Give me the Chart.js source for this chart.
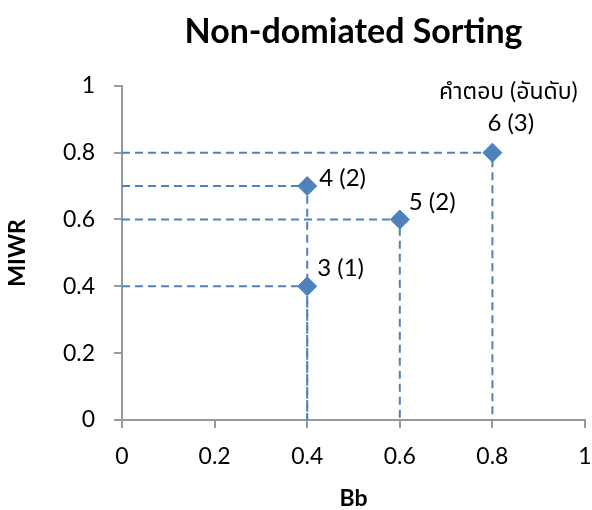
<!DOCTYPE html>
<html><head><meta charset="utf-8">
<script src="https://cdn.jsdelivr.net/npm/chart.js@4/dist/chart.umd.min.js"></script>
<style>html,body{margin:0;padding:0;background:#fff}#wrap{width:592px;height:510px}</style>
</head><body><div id="wrap"><canvas id="c" width="592" height="510"></canvas></div>
<script>
const bbValues = [0.4, 0.4, 0.6, 0.8];
const miwrValues = [0.4, 0.7, 0.6, 0.8];
const pointLabels = ['3 (1)', '4 (2)', '5 (2)', '6 (3)'];
const xTicks = [0, 0.2, 0.4, 0.6, 0.8, 1];
const yTicks = [0, 0.2, 0.4, 0.6, 0.8, 1];
const noteText = 'คำตอบ (อันดับ)';

const FONT = "Lato, 'Noto Sans', 'Noto Sans Thai', 'DejaVu Sans', sans-serif";
const BLUE = '#4F81BD';
const AXIS = '#999999';

const guideSets = bbValues.map((x, i) => ({
  type: 'line',
  data: [{x: 0, y: miwrValues[i]}, {x: x, y: miwrValues[i]}, {x: x, y: 0}],
  borderColor: BLUE, borderWidth: 2, borderDash: [8, 5],
  pointRadius: 0, fill: false, tension: 0, order: 2
}));

const labelOffsets = [[10, -18], [12, -8], [9, -17], [-5, -29]];
const labelPlugin = {
  id: 'pointLabels',
  afterDatasetsDraw(chart) {
    const ctx = chart.ctx;
    const meta = chart.getDatasetMeta(guideSets.length);
    ctx.save();
    ctx.fillStyle = '#000';
    ctx.font = '24px ' + FONT;
    ctx.textBaseline = 'middle';
    ctx.textAlign = 'left';
    meta.data.forEach((pt, i) => {
      const o = labelOffsets[i];
      ctx.fillText(pointLabels[i], pt.x + o[0], pt.y + o[1]);
    });
    const last = meta.data[meta.data.length - 1];
    ctx.font = '23px ' + FONT;
    ctx.textAlign = 'center';
    ctx.fillText(noteText, last.x + 16, chart.scales.y.getPixelForValue(1) + 6);
    ctx.restore();
  }
};

new Chart(document.getElementById('c'), {
  type: 'scatter',
  data: {
    datasets: [...guideSets, {
      type: 'scatter',
      data: bbValues.map((x, i) => ({x: x, y: miwrValues[i]})),
      pointStyle: 'rectRot', pointRadius: 9.5, pointHoverRadius: 9.5,
      backgroundColor: BLUE, borderColor: BLUE, borderWidth: 1, order: 1
    }]
  },
  options: {
    responsive: false, animation: false,
    layout: {autoPadding: false, padding: {left: 0, right: 7, top: 0, bottom: 0}},
    plugins: {
      legend: {display: false}, tooltip: {enabled: false},
      title: {display: true, fullSize: false, text: 'Non-domiated Sorting', color: '#000',
        font: {family: FONT, size: 34, weight: 'bold'}, padding: {top: 12, bottom: 33}}
    },
    scales: {
      x: {
        type: 'linear', min: 0, max: 1,
        afterBuildTicks: s => { s.ticks = xTicks.map(v => ({value: v})); },
        afterFit: s => { s.height = 90; s.paddingRight = 0; s.paddingLeft = 0; },
        ticks: {color: '#000', font: {family: FONT, size: 23}, padding: 15,
          callback: v => String(v)},
        grid: {drawOnChartArea: false, tickLength: 8, color: AXIS, lineWidth: 2},
        border: {color: AXIS, width: 2},
        title: {display: true, text: 'Bb', color: '#000',
          font: {family: FONT, size: 23, weight: 'bold'}, padding: {top: 0, bottom: -2}}
      },
      y: {
        type: 'linear', min: 0, max: 1,
        afterBuildTicks: s => { s.ticks = yTicks.map(v => ({value: v})); },
        afterFit: s => { s.width = 122; s.paddingTop = 0; s.paddingBottom = 0; },
        ticks: {color: '#000', font: {family: FONT, size: 23}, padding: 19,
          callback: v => String(v)},
        grid: {drawOnChartArea: false, tickLength: 8, color: AXIS, lineWidth: 2},
        border: {color: AXIS, width: 2},
        title: {display: true, text: 'MIWR', color: '#000',
          font: {family: FONT, size: 23, weight: 'bold'}, padding: {top: 4, bottom: 0}}
      }
    }
  },
  plugins: [labelPlugin]
});
</script></body></html>
